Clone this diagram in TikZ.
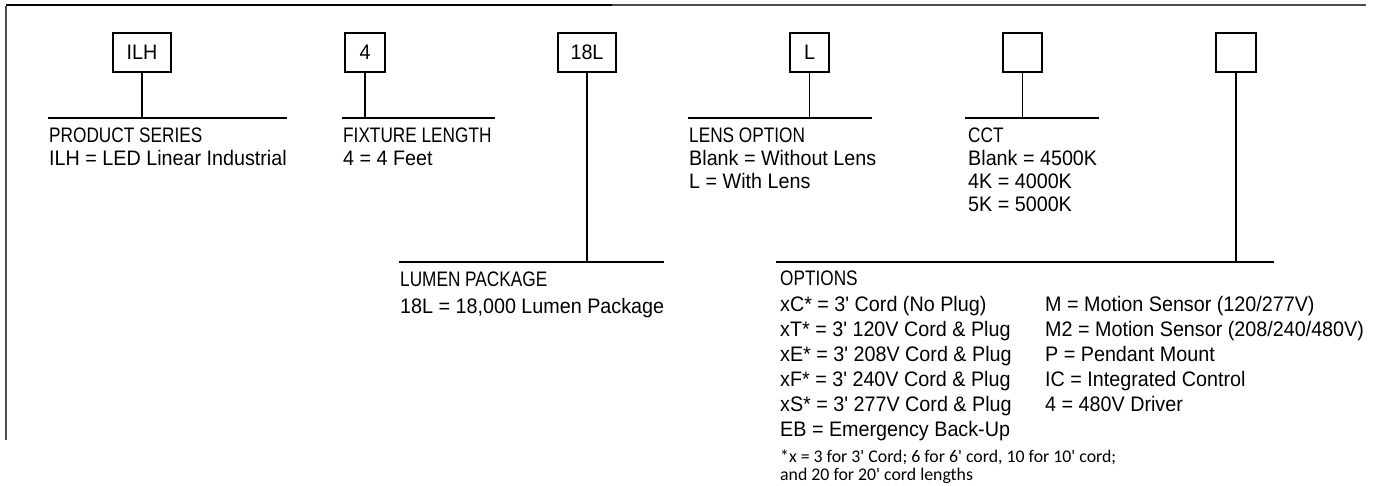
\documentclass[tikz,border=0pt]{standalone}
\usepackage{fontspec}
\setmainfont{Liberation Sans}
\newfontfamily\bodyf[FakeStretch=0.94]{Liberation Sans}
\newfontfamily\headf[FakeStretch=0.82]{Liberation Sans}
\newfontfamily\notef{Carlito}
\begin{document}
\begin{tikzpicture}[x=1pt,y=-1pt,
  box/.style={draw, line width=1.3pt, minimum height=39pt, inner sep=0pt,
    font=\bodyf\fontsize{21}{23}\selectfont},
  conn/.style={line width=1.2pt, line cap=rect},
  head/.style={anchor=base west, inner sep=0pt, font=\headf\fontsize{21}{23}\selectfont},
  body/.style={anchor=base west, inner sep=0pt, font=\bodyf\fontsize{21}{23}\selectfont},
  note/.style={anchor=base west, inner sep=0pt, font=\notef\fontsize{17.8}{19}\selectfont},
  frameA/.style={line width=2.6pt, black},
  frameB/.style={line width=2pt, black!70}]
\useasboundingbox (0,0) rectangle (1378,485);
% frame
\coordinate (fBL) at (6,440);
\coordinate (fTL) at (6,5);
\coordinate (fTM) at (612,5);
\coordinate (fTR) at (1366,5);
\draw[frameB] (fBL) -- (6,6);
\draw[frameA] (fTL) -- (fTM);
\draw[frameB] (fTM) -- (fTR);
% boxes
\node[box, minimum width=58pt] (bA) at (142,52.5) {ILH};
\node[box, minimum width=40pt] (bB) at (365,52.5) {4};
\node[box, minimum width=58pt] (bC) at (587,52.5) {18L};
\node[box, minimum width=39pt] (bD) at (809.5,52.5) {L};
\node[box, minimum width=39pt] (bE) at (1022.5,52.5) {};
\node[box, minimum width=40pt] (bF) at (1236,52.5) {};
% horizontal rules
\coordinate (lAa) at (49,118);   \coordinate (lAb) at (286,118);
\coordinate (lBa) at (343,118);  \coordinate (lBb) at (494,118);
\coordinate (lCa) at (400,262);  \coordinate (lCb) at (663,262);
\coordinate (lDa) at (689,118);  \coordinate (lDb) at (871,118);
\coordinate (lEa) at (966,118);  \coordinate (lEb) at (1098,118);
\coordinate (lFa) at (777,262);  \coordinate (lFb) at (1273,262);
\foreach \l in {A,B,C,D,E,F}{
  \draw[conn] (l\l a) -- (l\l b);
  \draw[conn] (b\l.south) -- (b\l.south |- l\l a);
}
% texts
\node[head] (tA1) at (49,142) {PRODUCT SERIES};
\node[body] (tA2) at (49,165) {ILH = LED Linear Industrial};
\node[head] (tB1) at (343,142) {FIXTURE LENGTH};
\node[body] (tB2) at (343,165) {4 = 4 Feet};
\node[head] (tC1) at (400,286) {LUMEN PACKAGE};
\node[body] (tC2) at (400,313) {18L = 18,000 Lumen Package};
\node[head] (tD1) at (689,142) {LENS OPTION};
\node[body] (tD2) at (689,165) {Blank = Without Lens};
\node[body] (tD3) at (689,188) {L = With Lens};
\node[head] (tE1) at (968,142) {CCT};
\node[body] (tE2) at (968,165) {Blank = 4500K};
\node[body] (tE3) at (968,188) {4K = 4000K};
\node[body] (tE4) at (968,211) {5K = 5000K};
\node[head] (tF0) at (780,285) {OPTIONS};
\node[body] (tF1) at (780,311) {xC* = 3' Cord (No Plug)};
\node[body] (tF2) at (780,336) {xT* = 3' 120V Cord \& Plug};
\node[body] (tF3) at (780,361) {xE* = 3' 208V Cord \& Plug};
\node[body] (tF4) at (780,386) {xF* = 3' 240V Cord \& Plug};
\node[body] (tF5) at (780,411) {xS* = 3' 277V Cord \& Plug};
\node[body] (tF6) at (780,436) {EB = Emergency Back-Up};
\node[body] (tG1) at (1045,311) {M = Motion Sensor (120/277V)};
\node[body] (tG2) at (1045,336) {M2 = Motion Sensor (208/240/480V)};
\node[body] (tG3) at (1045,361) {P = Pendant Mount};
\node[body] (tG4) at (1045,386) {IC = Integrated Control};
\node[body] (tG5) at (1045,411) {4 = 480V Driver};
\node[note] (tN1) at (780,462) {*x = 3 for 3' Cord; 6 for 6' cord, 10 for 10' cord;};
\node[note] (tN2) at (780,480) {and 20 for 20' cord lengths};
\end{tikzpicture}
\end{document}
